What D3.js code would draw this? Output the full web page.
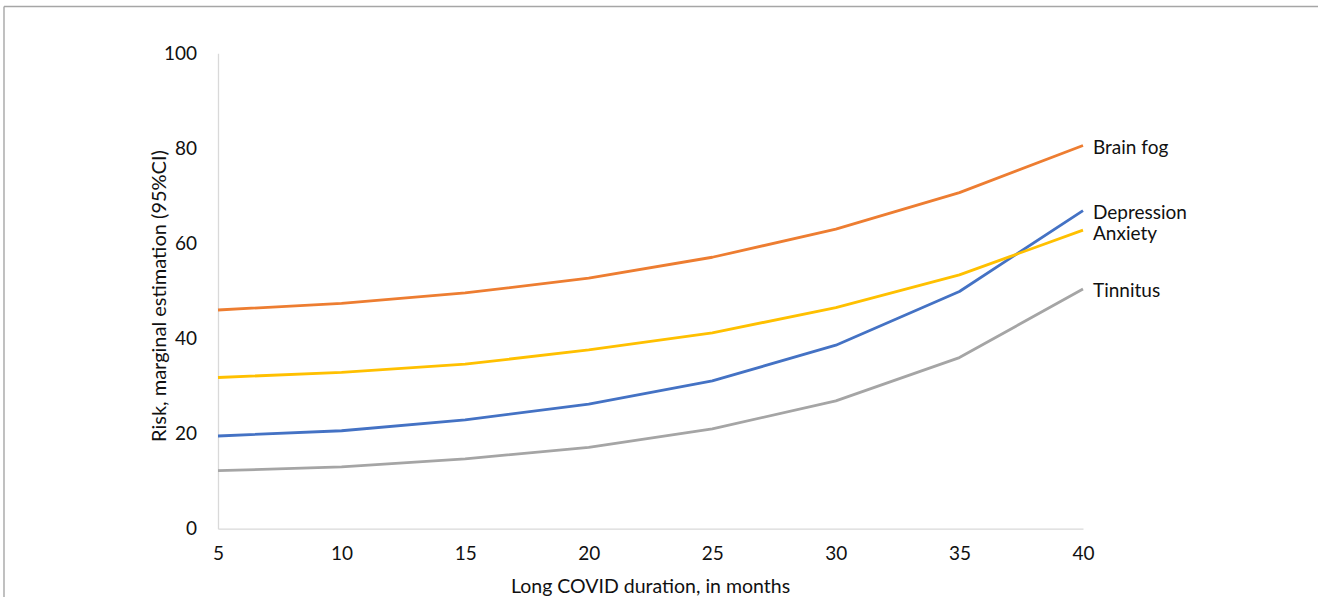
<!DOCTYPE html>
<html>
<head>
<meta charset="utf-8">
<script src="https://cdn.jsdelivr.net/npm/d3@7"></script>
<style>
  html, body { margin: 0; padding: 0; background: #fff; }
  svg { display: block; }
  text { font-family: Lato, "Open Sans", sans-serif; fill: #111; }
</style>
</head>
<body>
<svg id="chart" width="1318" height="597"></svg>
<script>
const months = [5, 10, 15, 20, 25, 30, 35, 40];
const seriesNames = ["Brain fog", "Depression", "Anxiety", "Tinnitus"];
const brainFog   = [46.0, 47.4, 49.6, 52.7, 57.1, 63.0, 70.7, 80.6];
const depression = [19.5, 20.6, 22.9, 26.2, 31.1, 38.6, 49.9, 66.9];
const anxiety    = [31.8, 32.9, 34.6, 37.6, 41.2, 46.5, 53.4, 62.8];
const tinnitus   = [12.2, 13.0, 14.7, 17.1, 21.0, 26.9, 36.0, 50.4];
const yTicks = [0, 20, 40, 60, 80, 100];
const xTitle = "Long COVID duration, in months";
const yTitle = "Risk, marginal estimation (95%CI)";

const series = [
  { name: seriesNames[0], values: brainFog,   color: "#ED7D31" },
  { name: seriesNames[1], values: depression, color: "#4472C4" },
  { name: seriesNames[2], values: anxiety,    color: "#FFC000" },
  { name: seriesNames[3], values: tinnitus,   color: "#A5A5A5" }
];

const svg = d3.select("#chart");
const W = 1318, H = 597;

// frame lines (top and left)
svg.append("line").attr("x1", 4).attr("x2", W).attr("y1", 6.5).attr("y2", 6.5)
  .attr("stroke", "#a6a6a6").attr("stroke-width", 1.4);
svg.append("line").attr("x1", 4).attr("x2", 4).attr("y1", 6.5).attr("y2", H)
  .attr("stroke", "#a6a6a6").attr("stroke-width", 1.4);

const x = d3.scaleLinear().domain([5, 40]).range([218, 1083]);
const y = d3.scaleLinear().domain([0, 100]).range([528.7, 53.3]);

// axes
const xAxis = svg.append("g").attr("transform", `translate(0,${y(0)})`)
  .call(d3.axisBottom(x).tickValues(months).tickSize(0).tickPadding(18).tickFormat(d3.format("d")));
xAxis.select(".domain").attr("stroke", "#d9d9d9").attr("stroke-width", 1.3);
xAxis.selectAll("text").style("font-size", "19px").attr("fill", "#111");

const yAxis = svg.append("g").attr("transform", `translate(${x(5)},0)`)
  .call(d3.axisLeft(y).tickValues(yTicks).tickSize(0).tickPadding(21).tickFormat(d3.format("d")));
yAxis.select(".domain").attr("stroke", "#d9d9d9").attr("stroke-width", 1.3);
yAxis.selectAll("text").style("font-size", "19px").attr("fill", "#111");

// lines
const line = d3.line().x((d, i) => x(months[i])).y(d => y(d));
svg.append("g").selectAll("path").data(series).join("path")
  .attr("d", d => line(d.values))
  .attr("fill", "none")
  .attr("stroke", d => d.color)
  .attr("stroke-width", 2.8)
  .attr("stroke-linejoin", "round");

// end labels with simple collision avoidance
const labels = series.map(s => ({ name: s.name, y: y(s.values[s.values.length - 1]) + 1.4 }));
labels.sort((a, b) => a.y - b.y);
for (let i = 1; i < labels.length; i++) {
  if (labels[i].y - labels[i - 1].y < 21.6) labels[i].y = labels[i - 1].y + 21.6;
}
svg.append("g").selectAll("text").data(labels).join("text")
  .attr("x", x(40) + 10)
  .attr("y", d => d.y)
  .attr("dy", "0.35em")
  .style("font-size", "19px")
  .text(d => d.name);

// axis titles
svg.append("text")
  .attr("x", (x(5) + x(40)) / 2).attr("y", 593)
  .attr("text-anchor", "middle").style("font-size", "19.5px")
  .text(xTitle);
svg.append("text")
  .attr("transform", `translate(166,296) rotate(-90)`)
  .attr("text-anchor", "middle").style("font-size", "20px")
  .text(yTitle);
</script>
</body>
</html>
